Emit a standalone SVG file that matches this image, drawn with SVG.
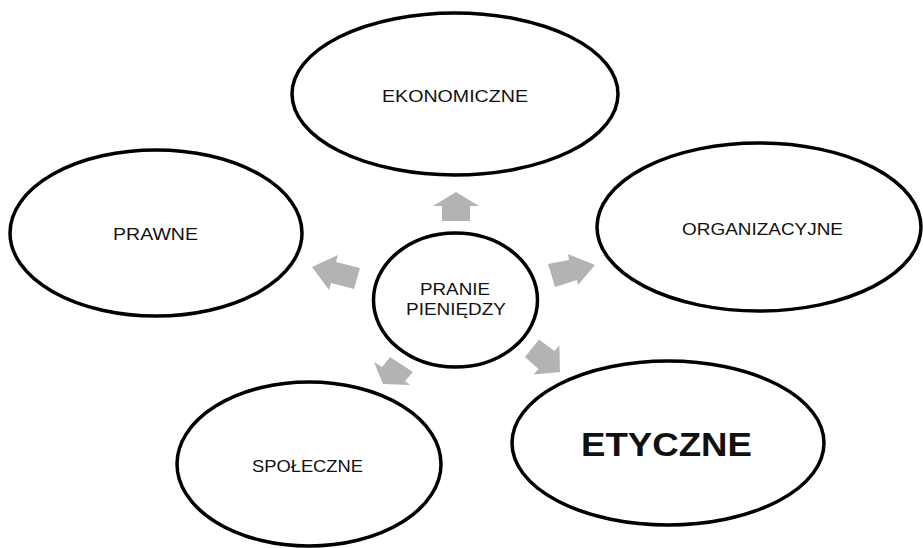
<svg xmlns="http://www.w3.org/2000/svg" width="923" height="548" viewBox="0 0 923 548">
  <style>
    .node ellipse { fill: #ffffff; stroke: #000000; stroke-width: 3.5; }
    .label { font-family: "Liberation Sans", Arial, sans-serif; font-size: 16.5px; fill: #111111; text-anchor: middle; }
    .big { font-size: 33.5px; font-weight: bold; }
    .arrow { fill: #b3b3b3; stroke: none; }
  </style>
  <rect width="923" height="548" fill="#ffffff"/>

  <!-- block arrows radiating from the central circle -->
  <g id="connectors">
    <polygon class="arrow" points="456,192 479,206 470,206 470,221 442,221 442,206 433,206"/>
    <polygon class="arrow" points="312,267 338,255 336,262 360,268 354,289 331,283 329,290"/>
    <polygon class="arrow" points="595,265 578,285 577,280 555,287 548,264 569,260 568,254"/>
    <polygon class="arrow" points="560,372 533.6,374.6 538.5,369 525,357 539,339.5 554.5,351 559.4,345.4"/>
    <polygon class="arrow" points="383,384 374,362 382,367 390,357 413,372 405,381 410,385"/>
  </g>

  <g id="ekonomiczne" class="node">
    <ellipse cx="455" cy="94" rx="163" ry="81"/>
    <text class="label" x="455" y="102" textLength="146" lengthAdjust="spacingAndGlyphs">EKONOMICZNE</text>
  </g>

  <g id="prawne" class="node">
    <ellipse cx="156" cy="233" rx="146" ry="83"/>
    <text class="label" x="155.5" y="240" textLength="85" lengthAdjust="spacingAndGlyphs">PRAWNE</text>
  </g>

  <g id="organizacyjne" class="node">
    <ellipse cx="759" cy="227" rx="162" ry="84"/>
    <text class="label" x="762.5" y="235" textLength="161" lengthAdjust="spacingAndGlyphs">ORGANIZACYJNE</text>
  </g>

  <g id="pranie-pieniedzy" class="node">
    <ellipse cx="455.5" cy="300" rx="82" ry="67"/>
    <text class="label" x="455" y="295" textLength="70" lengthAdjust="spacingAndGlyphs">PRANIE</text>
    <text class="label" x="456" y="315" textLength="100" lengthAdjust="spacingAndGlyphs">PIENIĘDZY</text>
  </g>

  <g id="spoleczne" class="node">
    <ellipse cx="309" cy="464" rx="132" ry="82"/>
    <text class="label" x="307.5" y="472" textLength="111" lengthAdjust="spacingAndGlyphs">SPOŁECZNE</text>
  </g>

  <g id="etyczne" class="node">
    <ellipse cx="668" cy="443" rx="156" ry="82"/>
    <text class="label big" x="666.5" y="456" textLength="171" lengthAdjust="spacingAndGlyphs">ETYCZNE</text>
  </g>
</svg>
